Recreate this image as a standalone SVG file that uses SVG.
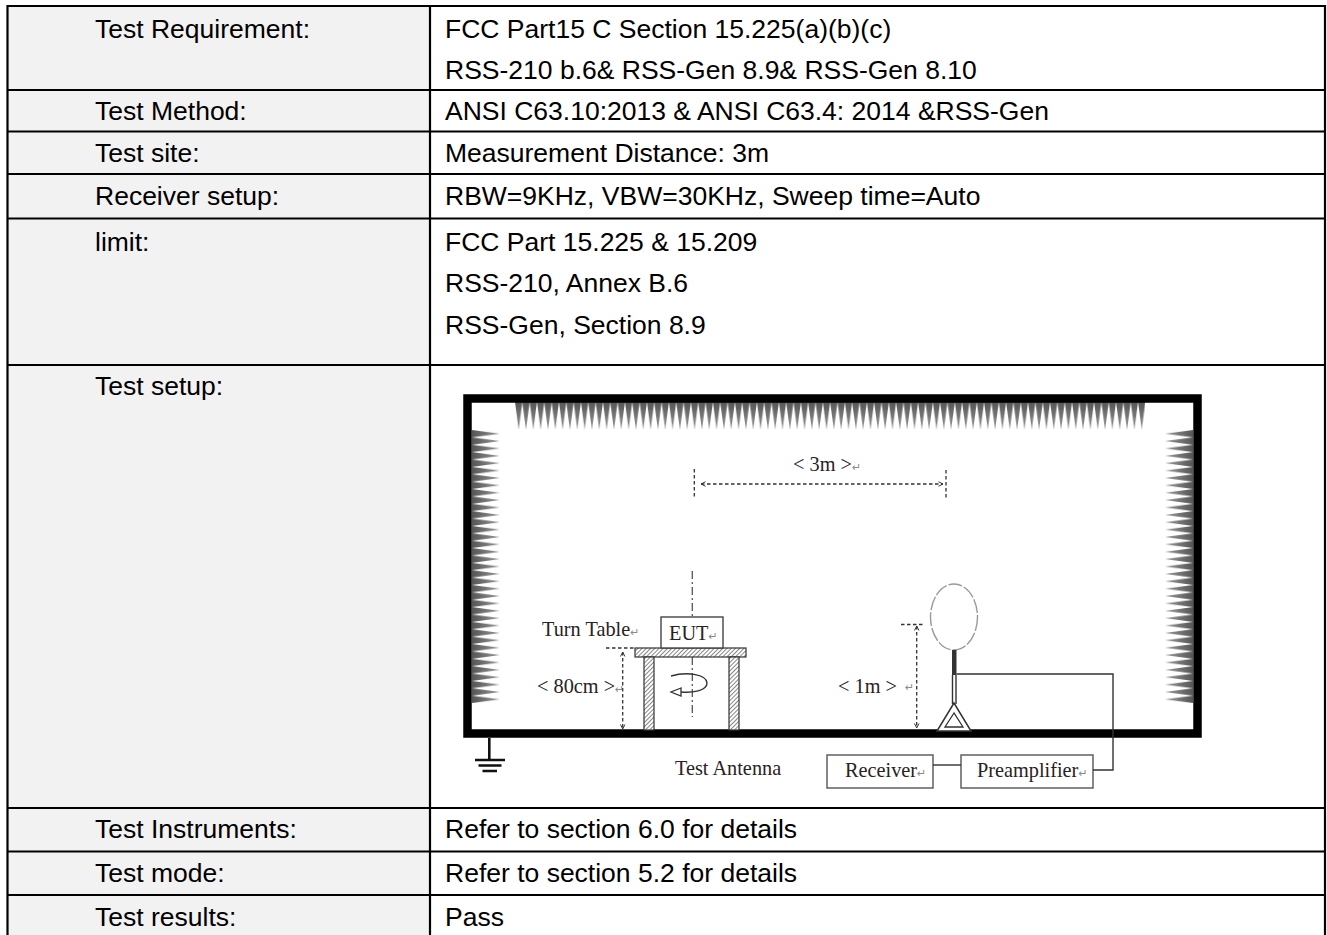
<svg xmlns="http://www.w3.org/2000/svg" width="1327" height="935" viewBox="0 0 1327 935">
<style>
.lbl{font-family:"Liberation Sans",Arial,sans-serif;font-size:26.5px;fill:#000}
.dg{font-family:"Liberation Serif","Times New Roman",serif;font-size:20.3px;fill:#2a2222}
.pm{font-size:11px;fill:#8a8a8a;font-family:"DejaVu Sans",sans-serif}
.grid{stroke:#000;stroke-width:2.2;fill:none}
.dim{stroke:#333;stroke-width:1.3;fill:none;stroke-dasharray:3.5 2.5}
.dd{stroke:#555;stroke-width:1.3;fill:none;stroke-dasharray:8 3 2 3}
.wire{stroke:#333;stroke-width:1.4;fill:none}
.box{stroke:#555;stroke-width:1.4;fill:#fff}
</style>
<defs>
<linearGradient id="gV" x1="0" y1="0" x2="0" y2="1"><stop offset="0" stop-color="#555"/><stop offset="1" stop-color="#999"/></linearGradient>
<linearGradient id="gL" x1="0" y1="0" x2="1" y2="0"><stop offset="0" stop-color="#555"/><stop offset="1" stop-color="#999"/></linearGradient>
<linearGradient id="gR" x1="1" y1="0" x2="0" y2="0"><stop offset="0" stop-color="#555"/><stop offset="1" stop-color="#999"/></linearGradient>
<pattern id="absTop" x="515" y="402" width="7.33" height="28" patternUnits="userSpaceOnUse"><path d="M0,0 L7.33,0 L3.67,28 Z" fill="url(#gV)"/></pattern>
<pattern id="absLeft" x="472" y="430" width="28" height="7.38" patternUnits="userSpaceOnUse"><path d="M0,0 L0,7.38 L28,3.69 Z" fill="url(#gL)"/></pattern>
<pattern id="absRight" x="1165" y="430" width="28" height="7.38" patternUnits="userSpaceOnUse"><path d="M28,0 L28,7.38 L0,3.69 Z" fill="url(#gR)"/></pattern>
<pattern id="hatch" width="3" height="3" patternUnits="userSpaceOnUse" patternTransform="rotate(45)"><line x1="0" y1="0" x2="0" y2="3" stroke="#444" stroke-width="1.3"/></pattern>
<marker id="chev" viewBox="0 0 8 8" refX="7" refY="4" markerWidth="6" markerHeight="6" orient="auto-start-reverse" markerUnits="userSpaceOnUse"><path d="M1,1 L7,4 L1,7" fill="none" stroke="#333" stroke-width="1.3"/></marker>
</defs>

<rect x="0" y="0" width="1327" height="935" fill="#fff"/>

<g id="table">
<rect x="8" y="6" width="422" height="929" fill="#f2f2f2"/>
<path class="grid" d="M7,6 H1325.5 M7,90 H1325.5 M7,131.5 H1325.5 M7,174 H1325.5 M7,218.5 H1325.5 M7,365 H1325.5 M7,808 H1325.5 M7,851.5 H1325.5 M7,895 H1325.5 M7.5,5 V935 M430,5 V935 M1325,5 V935"/>
</g>

<g id="row-requirement">
<text class="lbl" x="95" y="38">Test Requirement:</text>
<text class="lbl" x="445" y="38">FCC Part15 C Section 15.225(a)(b)(c)</text>
<text class="lbl" x="445" y="79">RSS-210 b.6&amp; RSS-Gen 8.9&amp; RSS-Gen 8.10</text>
</g>
<g id="row-method">
<text class="lbl" x="95" y="120">Test Method:</text>
<text class="lbl" x="445" y="120">ANSI C63.10:2013 &amp; ANSI C63.4: 2014 &amp;RSS-Gen</text>
</g>
<g id="row-site">
<text class="lbl" x="95" y="162">Test site:</text>
<text class="lbl" x="445" y="162">Measurement Distance: 3m</text>
</g>
<g id="row-receiver">
<text class="lbl" x="95" y="205">Receiver setup:</text>
<text class="lbl" x="445" y="205">RBW=9KHz, VBW=30KHz, Sweep time=Auto</text>
</g>
<g id="row-limit">
<text class="lbl" x="95" y="251">limit:</text>
<text class="lbl" x="445" y="251">FCC Part 15.225 &amp; 15.209</text>
<text class="lbl" x="445" y="292">RSS-210, Annex B.6</text>
<text class="lbl" x="445" y="334">RSS-Gen, Section 8.9</text>
</g>
<g id="row-setup">
<text class="lbl" x="95" y="395">Test setup:</text>
</g>
<g id="row-instruments">
<text class="lbl" x="95" y="838">Test Instruments:</text>
<text class="lbl" x="445" y="838">Refer to section 6.0 for details</text>
</g>
<g id="row-mode">
<text class="lbl" x="95" y="882">Test mode:</text>
<text class="lbl" x="445" y="882">Refer to section 5.2 for details</text>
</g>
<g id="row-results">
<text class="lbl" x="95" y="926">Test results:</text>
<text class="lbl" x="445" y="926">Pass</text>
</g>

<g id="setup-diagram">
<g id="absorbers">
<rect x="515" y="402" width="630" height="28" fill="url(#absTop)"/>
<rect x="472" y="430" width="28" height="273" fill="url(#absLeft)"/>
<rect x="1165" y="430" width="28" height="273" fill="url(#absRight)"/>
</g>

<g id="chamber">
<rect x="467.5" y="398.5" width="730" height="335" fill="none" stroke="#000" stroke-width="8.5"/>
</g>

<g id="ground">
<path d="M489.3,738 V759 M475,760 H505 M478.5,765.5 H501.5 M482.5,771 H497" stroke="#111" stroke-width="2.6" fill="none"/>
</g>

<g id="dim-3m">
<path class="dim" d="M694.3,469 V498 M946,470 V498"/>
<line class="dim" x1="701" y1="484" x2="943" y2="484" marker-start="url(#chev)" marker-end="url(#chev)"/>
<text class="dg" x="793" y="471">&lt; 3m &gt;<tspan class="pm">↵</tspan></text>
</g>

<g id="turntable">
<path class="dd" d="M692.3,571 V617 M692.3,657 V717"/>
<rect x="635" y="648" width="111" height="9" fill="#fff"/>
<rect x="635" y="648" width="111" height="9" fill="url(#hatch)" stroke="#333" stroke-width="1.2"/>
<rect x="644" y="657" width="10" height="73" fill="#fff"/>
<rect x="644" y="657" width="10" height="73" fill="url(#hatch)" stroke="#333" stroke-width="1.2"/>
<rect x="729" y="657" width="10" height="73" fill="#fff"/>
<rect x="729" y="657" width="10" height="73" fill="url(#hatch)" stroke="#333" stroke-width="1.2"/>
<path d="M671,676 C688,671 707,675 707,683 C707,691 692,693 681,692" fill="none" stroke="#333" stroke-width="1.4"/>
<path d="M681,688 L671,692 L681,696 Z" fill="#fff" stroke="#333" stroke-width="1.3"/>
<text class="dg" x="542" y="636">Turn Table<tspan class="pm">↵</tspan></text>
</g>

<g id="eut">
<rect x="661" y="617" width="62" height="31" fill="#fff" stroke="#444" stroke-width="1.4"/>
<text class="dg" x="669" y="640">EUT<tspan class="pm">↵</tspan></text>
</g>

<g id="dim-80cm">
<path class="dim" d="M606,648 H634"/>
<line class="dim" x1="622.7" y1="652" x2="622.7" y2="729" marker-start="url(#chev)" marker-end="url(#chev)"/>
<text class="dg" x="537" y="693">&lt; 80cm &gt;<tspan class="pm">↵</tspan></text>
</g>

<g id="dim-1m">
<path class="dim" d="M901,624.5 H923"/>
<line class="dim" x1="916.7" y1="626" x2="916.7" y2="728" marker-start="url(#chev)" marker-end="url(#chev)"/>
<text class="dg" x="838" y="693">&lt; 1m &gt;</text>
<text class="pm" x="905" y="691">↵</text>
</g>

<g id="test-antenna">
<ellipse cx="954" cy="617" rx="23.5" ry="33" fill="none" stroke="#999" stroke-width="1.4" stroke-dasharray="14 2"/>
<rect x="952" y="650" width="4.5" height="25" fill="#333"/>
<path d="M952.5,675 V704 M956,675 V704" stroke="#333" stroke-width="1.4"/>
<path d="M954,703 L937,731 L971,731 Z" fill="#fff" stroke="#333" stroke-width="1.5"/>
<path d="M954,713 L945,727 L963,727 Z" fill="none" stroke="#333" stroke-width="1.3"/>
<text class="dg" x="675" y="775">Test Antenna</text>
</g>

<g id="receiver">
<rect class="box" x="827" y="755" width="106" height="33"/>
<text class="dg" x="845" y="777">Receiver<tspan class="pm">↵</tspan></text>
</g>

<g id="preamplifier">
<rect class="box" x="961" y="755" width="132" height="33"/>
<text class="dg" x="977" y="777">Preamplifier<tspan class="pm">↵</tspan></text>
</g>

<g id="connectors">
<path class="wire" d="M956.5,674 H1113 V770 H1093"/>
<path class="wire" d="M933,765 H961"/>
</g>
</g>
</svg>
